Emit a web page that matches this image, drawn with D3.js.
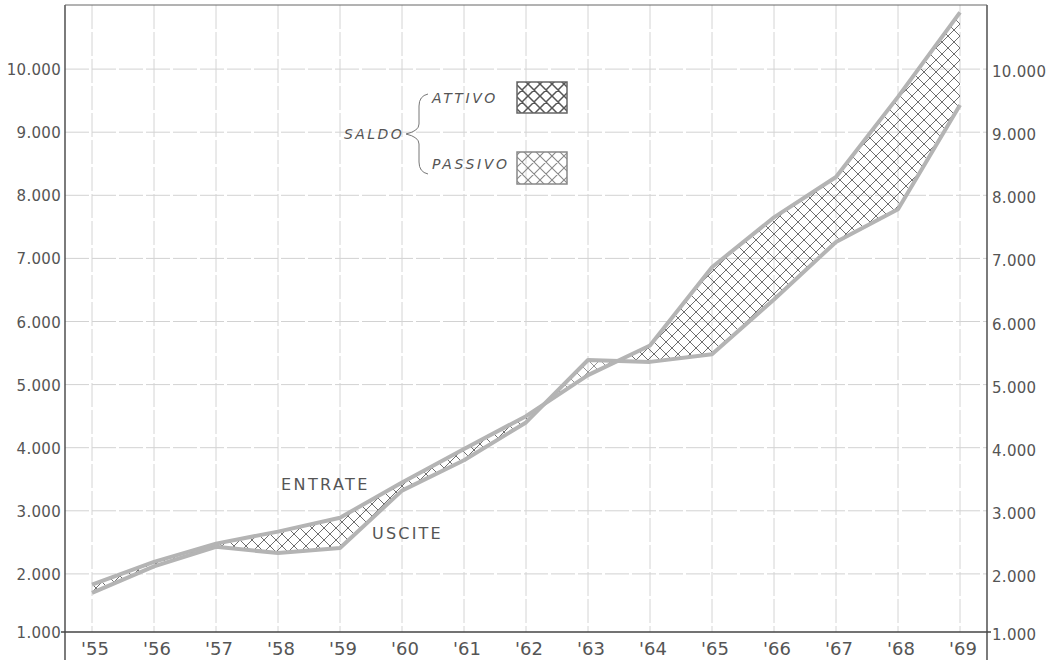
<!DOCTYPE html>
<html>
<head>
<meta charset="utf-8">
<script src="https://cdn.jsdelivr.net/npm/d3@7"></script>
<style>
  html, body { margin: 0; padding: 0; background: #fff; }
  svg { display: block; }
  text { font-family: "DejaVu Sans", sans-serif; fill: #555; }
</style>
</head>
<body>
<svg id="chart" width="1060" height="660"></svg>
<script>
// ---- data (lire, migliaia) ----
const years = [1955, 1956, 1957, 1958, 1959, 1960, 1961, 1962, 1963, 1964, 1965, 1966, 1967, 1968, 1969];
const yearLabels = ["'55", "'56", "'57", "'58", "'59", "'60", "'61", "'62", "'63", "'64", "'65", "'66", "'67", "'68", "'69"];
const entrate = [1830, 2190, 2480, 2670, 2890, 3450, 3980, 4500, 5150, 5620, 6860, 7650, 8290, 9560, 10900];
const uscite  = [1700, 2120, 2430, 2330, 2410, 3320, 3800, 4400, 5390, 5360, 5480, 6350, 7260, 7780, 9430];
const yTicks = [1000, 2000, 3000, 4000, 5000, 6000, 7000, 8000, 9000, 10000];
const seriesNames = ["ENTRATE", "USCITE"];
const legendTitle = "SALDO";
const legendItems = ["ATTIVO", "PASSIVO"];

const data = years.map((yr, i) => ({ year: yr, e: entrate[i], u: uscite[i], label: yearLabels[i] }));

const svg = d3.select("#chart");
const pLeft = 65, pRight = 987, pTop = 5, axisY = 632;

const x = d3.scaleLinear().domain([1955, 1969]).range([92, 960]);
const y = d3.scaleLinear().domain([1000, 11000]).range([637, 6]);

const itLocale = d3.formatLocale({ decimal: ",", thousands: ".", grouping: [3], currency: ["", ""] });
const fmt = itLocale.format(",");

// ---- patterns ----
const defs = svg.append("defs");
function hatch(id, color, w) {
  const p = defs.append("pattern").attr("id", id)
    .attr("patternUnits", "userSpaceOnUse").attr("width", 12).attr("height", 12);
  p.append("path").attr("d", "M0,0 L12,12 M12,0 L0,12 M-3,9 L3,15 M9,-3 L15,3 M-3,3 L3,-3 M9,15 L15,9")
    .attr("stroke", color).attr("stroke-width", w).attr("fill", "none");
}
hatch("attivo", "#6e6e6e", 1);
hatch("passivo", "#8a8a8a", 0.9);
hatch("attivoLeg", "#555", 1.5);
hatch("passivoLeg", "#888", 1.1);

// ---- gridlines ----
const grid = svg.append("g");
grid.selectAll("line.h").data(yTicks.filter(d => d > 1000)).join("line")
  .attr("x1", pLeft).attr("x2", pRight)
  .attr("y1", d => y(d)).attr("y2", d => y(d))
  .attr("stroke", "#d2d2d2").attr("stroke-width", 1).attr("stroke-dasharray", "24,3");
grid.selectAll("line.v").data(years).join("line")
  .attr("x1", d => x(d)).attr("x2", d => x(d))
  .attr("y1", pTop).attr("y2", axisY)
  .attr("stroke", "#d4d4d4").attr("stroke-width", 1).attr("stroke-dasharray", "24,3");

// ---- clip paths for surplus / deficit ----
const aboveU = d3.area().x(d => x(d.year)).y0(0).y1(d => y(d.u));
const belowU = d3.area().x(d => x(d.year)).y0(660).y1(d => y(d.u));
defs.append("clipPath").attr("id", "clipAbove").append("path").attr("d", aboveU(data));
defs.append("clipPath").attr("id", "clipBelow").append("path").attr("d", belowU(data));

const between = d3.area().x(d => x(d.year)).y0(d => y(d.u)).y1(d => y(d.e));
svg.append("path").attr("d", between(data)).attr("fill", "url(#attivo)").attr("clip-path", "url(#clipAbove)");
svg.append("path").attr("d", between(data)).attr("fill", "url(#passivo)").attr("clip-path", "url(#clipBelow)");

// ---- lines ----
const lineE = d3.line().x(d => x(d.year)).y(d => y(d.e));
const lineU = d3.line().x(d => x(d.year)).y(d => y(d.u));
svg.append("path").attr("d", lineU(data)).attr("fill", "none").attr("stroke", "#b4b4b4").attr("stroke-width", 4).attr("stroke-linejoin", "round");
svg.append("path").attr("d", lineE(data)).attr("fill", "none").attr("stroke", "#b4b4b4").attr("stroke-width", 4).attr("stroke-linejoin", "round");

// ---- frame ----
const frame = svg.append("g").attr("stroke", "#444").attr("stroke-width", 1.4);
frame.append("line").attr("x1", pLeft).attr("x2", pLeft).attr("y1", pTop).attr("y2", 660);
frame.append("line").attr("x1", pRight).attr("x2", pRight).attr("y1", pTop).attr("y2", 660);
frame.append("line").attr("x1", pLeft).attr("x2", pRight).attr("y1", pTop).attr("y2", pTop).attr("stroke", "#666").attr("stroke-width", 1);
frame.append("line").attr("x1", pLeft - 4).attr("x2", pRight + 4).attr("y1", axisY).attr("y2", axisY);

// ---- y labels (both sides) ----
function ly(d) { return d === 1000 ? axisY + 1 : y(d) + 1; }
svg.append("g").selectAll("text").data(yTicks).join("text")
  .attr("x", 61).attr("y", d => ly(d)).attr("text-anchor", "end").attr("dominant-baseline", "central")
  .attr("font-size", 15).attr("letter-spacing", 0.3).text(d => fmt(d));
svg.append("g").selectAll("text").data(yTicks).join("text")
  .attr("x", 992).attr("y", d => ly(d) + 2).attr("text-anchor", "start").attr("dominant-baseline", "central")
  .attr("font-size", 15).attr("letter-spacing", 0.3).text(d => fmt(d));

// ---- x labels ----
svg.append("g").selectAll("text").data(data).join("text")
  .attr("x", d => x(d.year) + 3).attr("y", 655).attr("text-anchor", "middle")
  .attr("font-size", 18).text(d => d.label);

// ---- series labels ----
svg.append("text").attr("x", 281).attr("y", 490).attr("font-size", 16).attr("letter-spacing", 2.4).text(seriesNames[0]);
svg.append("text").attr("x", 372).attr("y", 539).attr("font-size", 16).attr("letter-spacing", 2.2).text(seriesNames[1]);

// ---- legend ----
const lg = svg.append("g");
lg.append("text").attr("x", 344).attr("y", 139).attr("font-size", 14).attr("font-style", "italic").attr("letter-spacing", 2.4).text(legendTitle);
lg.append("text").attr("x", 432).attr("y", 103).attr("font-size", 14).attr("font-style", "italic").attr("letter-spacing", 2.6).text(legendItems[0]);
lg.append("text").attr("x", 432).attr("y", 169).attr("font-size", 14).attr("font-style", "italic").attr("letter-spacing", 2.6).text(legendItems[1]);
lg.append("path")
  .attr("d", "M428,94 Q419,96 419,106 L419,124 Q419,131 406,134 Q419,137 419,144 L419,162 Q419,172 428,174")
  .attr("fill", "none").attr("stroke", "#777").attr("stroke-width", 1);
lg.append("rect").attr("x", 517).attr("y", 82).attr("width", 50).attr("height", 31)
  .attr("fill", "url(#attivoLeg)").attr("stroke", "#666").attr("stroke-width", 1.5);
lg.append("rect").attr("x", 517).attr("y", 152).attr("width", 50).attr("height", 32)
  .attr("fill", "url(#passivoLeg)").attr("stroke", "#888").attr("stroke-width", 1.5);
</script>
</body>
</html>
